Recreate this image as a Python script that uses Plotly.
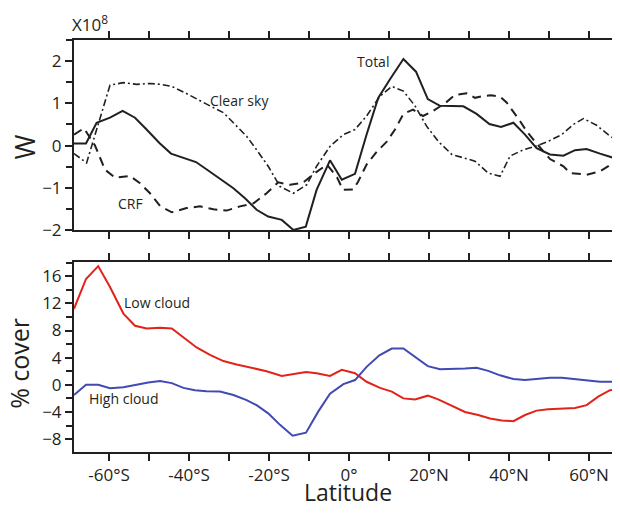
import plotly.graph_objects as go

# ---------------- data ----------------
total_lat = [-68.75, -65.75, -63.1, -59.75, -56.6, -53.5, -50.6, -47.4, -44.5, -41.2, -38.25, -35.2,
             -32.25, -28.9, -26.0, -23.1, -20.2, -16.8, -13.9, -10.8, -8.1, -4.75, -1.8, 1.5, 4.4,
             7.3, 10.25, 13.6, 16.75, 19.7, 22.75, 25.7, 28.6, 31.9, 35.1, 38.0, 41.1, 44.0, 46.9,
             50.25, 53.6, 56.5, 59.4, 62.75, 66.1, 67.75]
total_w = [0.05, 0.05, 0.54, 0.66, 0.82, 0.66, 0.38, 0.06, -0.19, -0.29, -0.39, -0.59,
           -0.79, -1.01, -1.25, -1.52, -1.68, -1.76, -2.0, -1.92, -1.05, -0.35, -0.81, -0.67, 0.26,
           1.13, 1.57, 2.05, 1.75, 1.10, 0.94, 0.94, 0.93, 0.75, 0.51, 0.44, 0.54, 0.26, -0.06,
           -0.21, -0.24, -0.11, -0.08, -0.19, -0.29, -0.32]

clear_lat = [-68.75, -65.6, -59.75, -56.4, -53.1, -49.75, -47.25, -44.3, -41.4, -38.1, -34.75, -31.4,
             -28.9, -25.6, -23.1, -20.2, -17.25, -13.9, -10.6, -8.1, -4.75, -1.4, 1.5, 4.4, 7.75,
             10.7, 13.6, 16.5, 19.4, 22.3, 25.7, 28.6, 31.5, 34.8, 37.75, 40.25, 43.6, 46.5, 49.8,
             53.2, 56.1, 58.6, 61.9, 64.8, 67.75]
clear_w = [-0.19, -0.41, 1.43, 1.49, 1.45, 1.47, 1.45, 1.40, 1.27, 1.10, 0.94, 0.78,
           0.54, 0.22, -0.10, -0.49, -0.97, -1.13, -0.93, -0.49, -0.02, 0.26, 0.38, 0.70, 1.17,
           1.40, 1.29, 0.94, 0.46, 0.10, -0.21, -0.29, -0.37, -0.65, -0.73, -0.25, -0.10, -0.02, 0.10,
           0.26, 0.50, 0.64, 0.48, 0.26, 0.06]

crf_lat = [-68.75, -66.25, -63.5, -61.0, -58.5, -54.75, -52.25, -49.75, -47.25, -44.3, -40.6, -37.25,
           -33.9, -30.6, -27.25, -23.9, -20.6, -17.7, -14.75, -11.5, -8.5, -5.5, -3.0, -1.5, 1.1,
           2.3, 4.4, 6.9, 9.5, 11.5, 13.6, 16.0, 18.5, 21.0, 24.0, 26.5, 29.4, 31.5, 33.5, 35.5,
           37.75, 39.4, 42.75, 44.4, 46.1, 50.25, 53.6, 55.25, 59.4, 62.75, 66.1, 67.75]
crf_w = [0.26, 0.41, 0.0, -0.57, -0.76, -0.72, -0.89, -1.13, -1.43, -1.58, -1.48, -1.44,
         -1.51, -1.54, -1.44, -1.37, -1.13, -0.87, -0.93, -0.88, -0.65, -0.45, -0.75, -1.05, -1.04,
         -0.85, -0.45, -0.15, 0.10, 0.38, 0.75, 0.85, 0.70, 0.82, 1.00, 1.20, 1.24, 1.13, 1.17, 1.19,
         1.16, 1.02, 0.58, 0.34, 0.14, -0.32, -0.49, -0.65, -0.69, -0.61, -0.41, -0.32]

low_lat = [-68.75, -65.75, -62.7, -59.75, -56.4, -53.5, -50.6, -47.25, -44.3, -41.4, -38.1, -34.75,
           -31.4, -28.1, -23.9, -20.6, -16.8, -13.9, -10.75, -8.1, -4.75, -1.8, 1.5, 4.4, 7.75,
           10.7, 13.6, 16.5, 19.7, 22.3, 25.7, 29.0, 32.3, 35.25, 38.2, 41.1, 44.0, 46.9, 49.8,
           53.2, 56.5, 59.4, 62.3, 65.25, 67.75]
low_cover = [11.2, 15.6, 17.5, 14.4, 10.5, 8.7, 8.3, 8.4, 8.3, 7.0, 5.5, 4.4,
             3.5, 3.0, 2.5, 2.0, 1.3, 1.6, 1.9, 1.7, 1.3, 2.2, 1.7, 0.45, -0.45,
             -1.0, -2.0, -2.15, -1.6, -2.15, -3.1, -4.0, -4.45, -4.95, -5.25, -5.35, -4.45, -3.8, -3.6,
             -3.5, -3.4, -3.0, -1.75, -0.8, -0.55]

high_lat = [-68.75, -65.75, -62.7, -59.75, -56.4, -53.1, -50.2, -47.25, -44.3, -41.4, -38.5, -35.6,
            -32.25, -28.9, -25.6, -23.1, -20.2, -17.25, -14.1, -10.75, -7.7, -4.75, -1.4, 1.5, 4.4,
            7.6, 10.7, 13.6, 16.5, 19.7, 22.75, 26.0, 29.0, 31.9, 34.8, 37.75, 41.1, 44.0, 46.9,
            50.25, 53.2, 56.5, 59.4, 62.75, 67.75]
high_cover = [-1.5, 0.0, 0.0, -0.5, -0.35, 0.05, 0.35, 0.55, 0.25, -0.45, -0.8, -0.95,
              -1.0, -1.5, -2.25, -3.0, -4.2, -5.9, -7.5, -7.05, -3.95, -1.3, 0.1, 0.7, 2.65,
              4.35, 5.35, 5.35, 4.1, 2.75, 2.3, 2.3, 2.4, 2.5, 2.05, 1.4, 0.85, 0.7, 0.85,
              1.05, 1.05, 0.85, 0.6, 0.45, 0.45]

lat_ticks = [-60, -50, -40, -30, -20, -10, 0, 10, 20, 30, 40, 50, 60]
lat_labels = ["-60°S", "", "-40°S", "", "-20°S", "", "0°", "", "20°N", "", "40°N", "", "60°N"]
w_ticks = [-2, -1, 0, 1, 2]
cover_ticks = [-8, -4, 0, 4, 8, 12, 16]

# ---------------- figure ----------------
INK = "#231f20"
FONT = "Open Sans"

fig = go.Figure()
fig.add_trace(go.Scatter(x=total_lat, y=total_w, mode="lines", name="Total",
                         line=dict(color=INK, width=2), xaxis="x", yaxis="y"))
fig.add_trace(go.Scatter(x=clear_lat, y=clear_w, mode="lines", name="Clear sky",
                         line=dict(color=INK, width=1.6, dash="7px,3px,2px,3px"), xaxis="x", yaxis="y"))
fig.add_trace(go.Scatter(x=crf_lat, y=crf_w, mode="lines", name="CRF",
                         line=dict(color=INK, width=2, dash="9px,6px"), xaxis="x", yaxis="y"))
fig.add_trace(go.Scatter(x=low_lat, y=low_cover, mode="lines", name="Low cloud",
                         line=dict(color="#e2231a", width=2), xaxis="x2", yaxis="y2"))
fig.add_trace(go.Scatter(x=high_lat, y=high_cover, mode="lines", name="High cloud",
                         line=dict(color="#4149b3", width=2), xaxis="x2", yaxis="y2"))

xcommon = dict(range=[-68.75, 67.75], tickvals=lat_ticks, ticks="outside", ticklen=7, tickwidth=1.5,
               tickcolor=INK, showline=True, linecolor=INK, linewidth=2, mirror="ticks",
               showgrid=False, zeroline=False, automargin=False,
               tickfont=dict(family=FONT, size=17, color=INK))
ycommon = dict(ticks="outside", ticklen=7, tickwidth=1.5, tickcolor=INK, showline=True,
               linecolor=INK, linewidth=2, showgrid=False, zeroline=False, automargin=False,
               tickfont=dict(family=FONT, size=17, color=INK))

# page body has an 8px default margin; the figure is sized so that it fills the 620x513 window
fig.update_layout(
    width=612, height=497,
    margin=dict(l=66, r=0, t=32, b=53, autoexpand=False),
    paper_bgcolor="white", plot_bgcolor="white",
    showlegend=False,
    font=dict(family=FONT, color=INK),
    xaxis=dict(**xcommon, anchor="y", ticktext=[""] * len(lat_ticks)),
    yaxis=dict(**ycommon, domain=[0.5388, 1.0], range=[-2, 2.5], tickvals=w_ticks, anchor="x",
               minor=dict(dtick=0.5, tick0=0, ticks="outside", ticklen=6, tickcolor=INK, tickwidth=1.5)),
    xaxis2=dict(**xcommon, anchor="y2", ticktext=lat_labels),
    yaxis2=dict(**ycommon, domain=[0.0, 0.4612], range=[-9.9, 18.1], tickvals=cover_ticks, anchor="x2",
                minor=dict(dtick=2, tick0=0, ticks="outside", ticklen=6, tickcolor=INK, tickwidth=1.5)),
)

ann = [
    dict(text="Total", x=6.0, y=2.0, xref="x", yref="y", font=dict(size=14)),
    dict(text="Clear sky", x=-27.4, y=1.07, xref="x", yref="y", font=dict(size=14)),
    dict(text="CRF", x=-54.6, y=-1.38, xref="x", yref="y", font=dict(size=14)),
    dict(text="Low cloud", x=-47.9, y=12.16, xref="x2", yref="y2", font=dict(size=14)),
    dict(text="High cloud", x=-56.25, y=-1.96, xref="x2", yref="y2", font=dict(size=14)),
    dict(text="X10<sup>8</sup>", x=-0.008, y=1.041, xref="paper", yref="paper",
         xanchor="left", font=dict(size=17)),
    dict(text="W", x=-0.0897, y=0.739, xref="paper", yref="paper", textangle=-90, font=dict(size=27)),
    dict(text="% cover", x=-0.1007, y=0.214, xref="paper", yref="paper", textangle=-90, font=dict(size=25)),
    dict(text="Latitude", x=0.5018, y=-0.097, xref="paper", yref="paper", font=dict(size=23)),
]
for a in ann:
    a.setdefault("showarrow", False)
    a.setdefault("xanchor", "center")
    a.setdefault("yanchor", "middle")
    a["font"] = dict(family=FONT, color=INK, **a["font"])
fig.update_layout(annotations=ann)

fig.write_html("out.html")
